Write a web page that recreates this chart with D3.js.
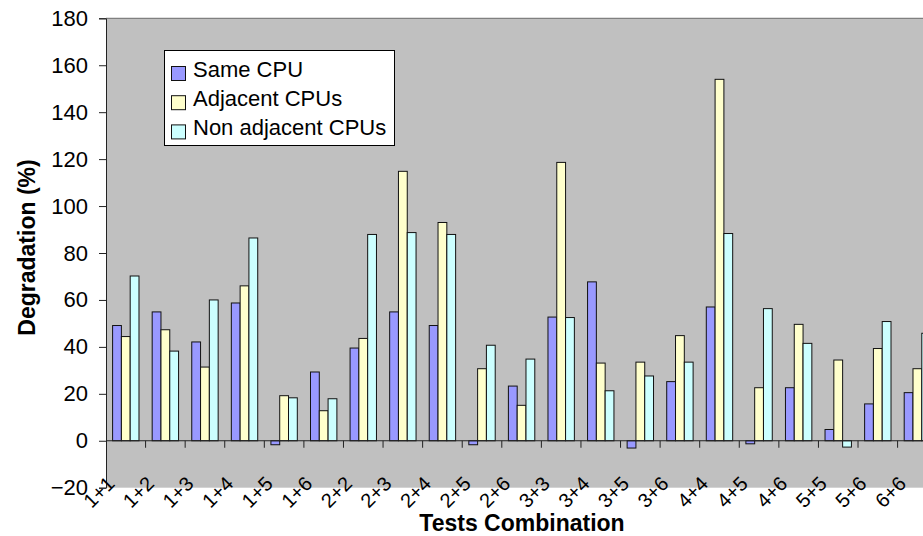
<!DOCTYPE html>
<html>
<head>
<meta charset="utf-8">
<script src="https://cdn.jsdelivr.net/npm/d3@7"></script>
<style>
  body { margin: 0; background: white; }
  svg#vis-deg { display: block; font-family: Arial, "Liberation Sans", sans-serif; }
</style>
</head>
<body>
<svg id="vis-deg" width="923" height="536"></svg>
<script>

const categories = [
    '1+1', '1+2', '1+3', '1+4', '1+5', '1+6', '2+2', '2+3', '2+4', '2+5', '2+6',
    '3+3', '3+4', '3+5', '3+6', '4+4', '4+5', '4+6', '5+5', '5+6', '6+6'
];

const seriesNames = ['Same CPU', 'Adjacent CPUs', 'Non adjacent CPUs'];

const sameCpu     = [49.1, 54.9, 42.1, 58.7, -1.7, 29.3, 39.5, 54.9, 49.1, -1.7, 23.3,
                     52.7, 67.7, -3.1, 25.2, 57.0, -1.3, 22.6, 4.8, 15.7, 20.5];
const adjacent    = [44.4, 47.3, 31.4, 66.0, 19.2, 12.8, 43.6, 114.8, 93.0, 30.7, 15.1,
                     118.6, 33.1, 33.5, 44.8, 154.0, 22.6, 49.6, 34.4, 39.3, 30.7];
const nonAdjacent = [70.2, 38.2, 60.0, 86.4, 18.3, 17.9, 87.9, 88.7, 87.9, 40.7, 34.8,
                     52.5, 21.3, 27.6, 33.5, 88.3, 56.3, 41.5, -2.7, 50.8, 45.8];

const yTicks = [-20, 0, 20, 40, 60, 80, 100, 120, 140, 160, 180];

const chart = {

    dims : {
        left : 106,
        top : 18.3,
        bottom : 487.7,
        step : 39.58
    },

    colors : ['#9999FF', '#FFFFCC', '#CCFFFF'],

    scales : {

        x : () => d3.scaleBand()
            .domain(categories)
            .range([chart.dims.left, chart.dims.left + categories.length * chart.dims.step])
            .padding(0),

        inner : () => d3.scaleBand()
            .domain(seriesNames)
            .range([0, chart.dims.step])
            .paddingInner(0)
            .paddingOuter(0.75),

        y : () => d3.scaleLinear()
            .domain([-20, 180])
            .range([chart.dims.bottom, chart.dims.top])

    },

    render : {

        background : function(svg) {

            let d = chart.dims;

            svg.append('rect')
                .attr('x', d.left)
                .attr('y', d.top)
                .attr('width', 923 - d.left + 20)
                .attr('height', d.bottom - d.top)
                .attr('fill', '#C0C0C0');

            svg.append('line')
                .attr('x1', d.left).attr('x2', 923)
                .attr('y1', d.top).attr('y2', d.top)
                .attr('stroke', '#808080')
                .attr('stroke-width', 1.2);

        },

        bars : function(svg) {

            let x = chart.scales.x();
            let inner = chart.scales.inner();
            let y = chart.scales.y();

            let rows = categories.map((c, i) => ({
                cat : c,
                vals : [sameCpu[i], adjacent[i], nonAdjacent[i]]
            }));

            svg.append('g')
                .selectAll('g')
                .data(rows)
                .join('g')
                .attr('transform', d => `translate(${x(d.cat)},0)`)
                .selectAll('rect')
                .data(d => d.vals.map((v, j) => ({ name : seriesNames[j], v : v, j : j })))
                .join('rect')
                .attr('x', d => inner(d.name))
                .attr('width', inner.bandwidth())
                .attr('y', d => y(Math.max(0, d.v)))
                .attr('height', d => Math.abs(y(d.v) - y(0)))
                .attr('fill', d => chart.colors[d.j])
                .attr('stroke', '#111')
                .attr('stroke-width', 1);

        },

        axes : function(svg) {

            let x = chart.scales.x();
            let y = chart.scales.y();
            let d = chart.dims;

            // y axis
            let ya = svg.append('g')
                .attr('transform', `translate(${d.left},0)`)
                .call(d3.axisLeft(y).tickValues(yTicks).tickSize(7).tickPadding(11));

            ya.select('.domain').attr('stroke', '#222');
            ya.selectAll('.tick line').attr('stroke', '#222');
            ya.selectAll('.tick text')
                .attr('font-size', 22)
                .attr('font-family', 'Arial, "Liberation Sans", sans-serif')
                .attr('fill', '#000');

            // x axis on the zero line, ticks at category boundaries
            let xa = svg.append('g')
                .attr('transform', `translate(0,${y(0)})`);

            xa.append('line')
                .attr('x1', d.left).attr('x2', 923)
                .attr('stroke', '#222');

            xa.selectAll('line.tk')
                .data(categories.slice(1))
                .join('line')
                .attr('class', 'tk')
                .attr('x1', c => x(c)).attr('x2', c => x(c))
                .attr('y1', 0).attr('y2', 7)
                .attr('stroke', '#222');

            svg.append('g')
                .selectAll('text')
                .data(categories)
                .join('text')
                .attr('transform', c => `translate(${x(c) + x.bandwidth() / 2 - 10},485) rotate(-45)`)
                .attr('text-anchor', 'end')
                .attr('font-size', 20)
                .attr('fill', '#000')
                .text(c => c);

            // titles
            svg.append('text')
                .attr('x', 522)
                .attr('y', 531)
                .attr('text-anchor', 'middle')
                .attr('font-size', 23)
                .attr('font-weight', 'bold')
                .text('Tests Combination');

            svg.append('text')
                .attr('transform', 'translate(35,247.5) rotate(-90)')
                .attr('text-anchor', 'middle')
                .attr('font-size', 23)
                .attr('font-weight', 'bold')
                .text('Degradation (%)');

        },

        legend : function(svg) {

            let g = svg.append('g');

            g.append('rect')
                .attr('x', 164.5).attr('y', 50.5)
                .attr('width', 230).attr('height', 95)
                .attr('fill', 'white')
                .attr('stroke', '#000');

            let items = g.selectAll('g.item')
                .data(seriesNames)
                .join('g')
                .attr('class', 'item')
                .attr('transform', (s, i) => `translate(0,${i * 29.2})`);

            items.append('rect')
                .attr('x', 171.5).attr('y', 66.5)
                .attr('width', 14).attr('height', 14)
                .attr('fill', (s, i) => chart.colors[i])
                .attr('stroke', '#111');

            items.append('text')
                .attr('x', 193)
                .attr('y', 76.5)
                .attr('font-size', 22)
                .attr('fill', '#000')
                .text(s => s);

        }

    },

    ctrl : {

        init : function() {

            let svg = d3.select('svg#vis-deg');

            chart.render.background(svg);
            chart.render.bars(svg);
            chart.render.axes(svg);
            chart.render.legend(svg);

        }

    }

};

chart.ctrl.init();
</script>
</body>
</html>
